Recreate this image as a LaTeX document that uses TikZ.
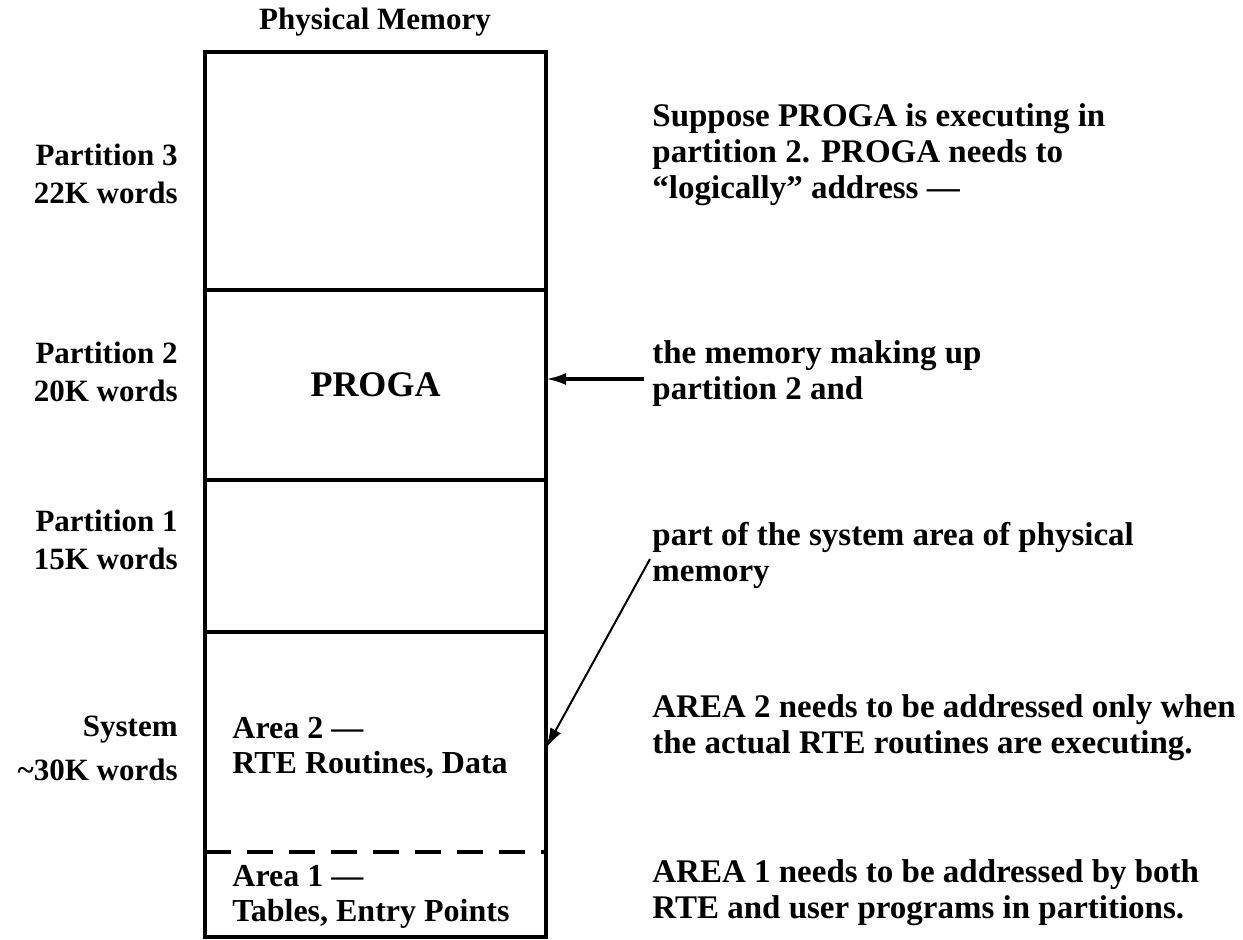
\documentclass[tikz,border=0pt]{standalone}
\usepackage{fontspec}
\setmainfont{Liberation Serif}
\usetikzlibrary{arrows.meta,positioning}
\tikzset{>={Latex[width=6pt,length=10pt]}}

\begin{document}
\begin{tikzpicture}[x=0.5pt,y=-0.5pt,
  part/.style={draw,line width=1.6pt,minimum width=170.5pt,inner sep=0pt,outer sep=0pt},
  lbl/.style={font=\bfseries\fontsize{15.5}{19}\selectfont,align=right,anchor=east,inner sep=0pt},
  area/.style={font=\bfseries\fontsize{16}{17.5}\selectfont,align=left,anchor=west,inner sep=0pt},
  note/.style={font=\bfseries\fontsize{16.5}{18}\selectfont,align=left,anchor=west,inner sep=0pt}]
\useasboundingbox (0,0) rectangle (1243,939);
\node[font=\bfseries\fontsize{15.5}{18}\selectfont] (title) at (375,22) {Physical Memory};
% memory column
\node[part,minimum height=119pt,anchor=north west] (p3) at (205,52) {};
\node[part,minimum height=95pt,below=0pt of p3,font=\bfseries\fontsize{18}{20}\selectfont] (p2) {PROGA};
\node[part,minimum height=76pt,below=0pt of p2] (p1) {};
\node[part,minimum height=152.5pt,below=0pt of p1] (sys) {};
\coordinate (dl) at (205,852);
\coordinate (dr) at (546,852);
\draw[line width=2pt,dash pattern=on 13pt off 8pt] (dl) -- (dr);
\node[area] (a2) at (232,748) {Area 2 ---\\RTE Routines, Data};
\node[area] (a1) at (232,897) {Area 1 ---\\Tables, Entry Points};
% sizes on the left
\node[lbl] (l3) at (178,174) {Partition 3\\22K words};
\node[lbl] (l2) at (178,372) {Partition 2\\20K words};
\node[lbl] (l1) at (178,540) {Partition 1\\15K words};
\node[lbl,font=\bfseries\fontsize{15.5}{22}\selectfont] (ls) at (178,748) {System\\\textasciitilde30K words};
% notes on the right
\node[note] (n1) at (652,155) {Suppose PROGA is executing in\\partition 2. PROGA needs to\\``logically'' address ---};
\node[note] (n2) at (652,374) {the memory making up\\partition 2 and};
\node[note] (n3) at (652,555) {part of the system area of physical\\memory};
\node[note] (n4) at (652,728) {AREA 2 needs to be addressed only when\\the actual RTE routines are executing.};
\node[note] (n5) at (652,893) {AREA 1 needs to be addressed by both\\RTE and user programs in partitions.};
\draw[->,line width=1.6pt] ([xshift=-4pt,yshift=-2.5pt]n2.west) -- ([yshift=-2.5pt]n2.west -| p2.east);
\draw[->,line width=1pt] ([xshift=-1pt,yshift=-2pt]n3.west) -- (a2.west -| sys.east);
\end{tikzpicture}
\end{document}
